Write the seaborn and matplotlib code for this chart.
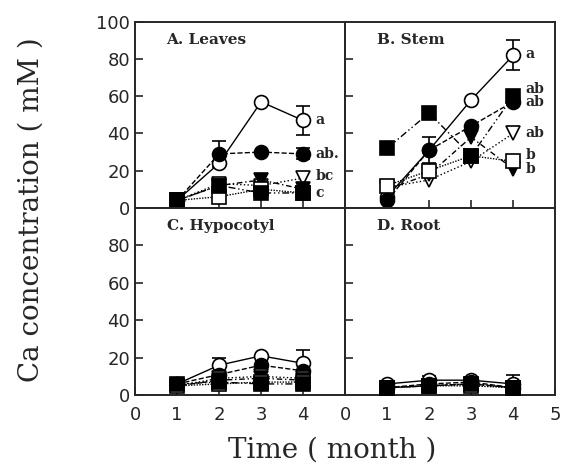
import numpy as np
import pandas as pd
import seaborn as sns
import matplotlib.pyplot as plt

sns.set_style("ticks")
plt.rcParams['font.family'] = ['DejaVu Serif', 'DejaVu Sans']

months = [1, 2, 3, 4]
panel_titles = ["A. Leaves", "B. Stem", "C. Hypocotyl", "D. Root"]

# series order: open circle, filled circle, open triangle, filled triangle, open square, filled square
leaves = [[4, 24, 57, 47], [4, 29, 30, 29], [4, 13, 12, 16], [4, 12, 15, 10], [4, 6, 10, 8], [4, 12, 8, 8]]
stem = [[6, 31, 58, 82], [4, 31, 44, 57], [11, 15, 25, 40], [10, 18, 38, 21], [12, 20, 28, 25], [32, 51, 28, 60]]
hypocotyl = [[6, 16, 21, 17], [6, 11, 16, 13], [5, 9, 10, 9], [5, 8, 9, 8], [5, 6, 7, 7], [6, 7, 6, 6]]
root = [[6, 8, 8, 6], [4, 6, 7, 4], [4, 5, 6, 4], [4, 5, 6, 4], [4, 5, 5, 4], [4, 5, 6, 4]]

# error bars (series index, month index, size)
leaves_err = [(0, 3, 8), (1, 1, 7), (1, 3, 3)]
stem_err = [(0, 3, 8), (1, 1, 7)]
hypocotyl_err = [(0, 1, 4), (0, 3, 7)]
root_err = [(0, 1, 2), (0, 3, 5)]

leaves_letters = [("a", 47), ("ab.", 29), ("bc", 17), ("c", 8)]
stem_letters = [("a", 83), ("ab", 64), ("ab", 57), ("ab", 40), ("b", 28.5), ("b", 21)]

markers = ['o', 'o', 'v', 'v', 's', 's']
faces = ['white', 'black', 'white', 'black', 'white', 'black']
styles = ['-', '--', ':', (0, (4, 2, 1, 2)), (0, (1, 1)), (0, (5, 2, 1, 2, 1, 2))]

fig = plt.figure(figsize=(5.63, 4.66), dpi=100)
L, R, B, T = 0.240, 0.986, 0.152, 0.953
mx, my = 0.613, 0.554
boxes = [[L, my, mx - L, T - my], [mx, my, R - mx, T - my],
         [L, B, mx - L, my - B], [mx, B, R - mx, my - B]]

panels = [leaves, stem, hypocotyl, root]
errs = [leaves_err, stem_err, hypocotyl_err, root_err]
letters = [leaves_letters, stem_letters, [], []]

for i, box in enumerate(boxes):
    ax = fig.add_axes(box)
    for k, vals in enumerate(panels[i]):
        sns.lineplot(x=months, y=vals, ax=ax, color='black', lw=1,
                     linestyle=styles[k], marker=markers[k], ms=10,
                     markerfacecolor=faces[k], markeredgecolor='black',
                     markeredgewidth=1.2, zorder=3 + k)
    for k, m, e in errs[i]:
        ax.errorbar(months[m], panels[i][k][m], yerr=e, color='black',
                    capsize=5, lw=1.2, capthick=1.2, zorder=2)
    for txt, yv in letters[i]:
        ax.text(4.3, yv, txt, fontsize=10, fontweight='bold', va='center')
    ax.text(0.15, 0.88, panel_titles[i], transform=ax.transAxes,
            fontsize=11, fontweight='bold')
    ax.set_xlim(0, 5)
    ax.set_ylim(0, 100)
    ax.tick_params(direction='in', length=6, width=1.2, labelsize=13)
    for sp in ax.spines.values():
        sp.set_linewidth(1.4)
    ax.set_xticks([1, 2, 3, 4])
    ax.set_xticklabels([])
    if i == 0:
        ax.set_yticks([0, 20, 40, 60, 80, 100])
        ax.set_yticklabels(['0', '20', '40', '60', '80', '100'], family='DejaVu Sans')
    elif i == 2:
        ax.set_yticks([0, 20, 40, 60, 80])
        ax.set_yticklabels(['0', '20', '40', '60', '80'], family='DejaVu Sans')
    else:
        ax.set_yticks([20, 40, 60, 80])
        ax.set_yticklabels([])
    if i >= 2:
        ticks = [0, 1, 2, 3, 4] if i == 2 else [0, 1, 2, 3, 4, 5]
        ax.set_xticks(ticks)
        ax.set_xticklabels([str(t) for t in ticks], family='DejaVu Sans')
        ax.tick_params(axis='x', pad=8)
    ax.set_xlabel('')
    ax.set_ylabel('')

fig.text(0.055, 0.55, "Ca concentration ( mM )", rotation=90, fontsize=20,
         ha='center', va='center')
fig.text(0.59, 0.035, "Time ( month )", fontsize=20, ha='center', va='center')

fig.savefig("out.png", dpi=100)
